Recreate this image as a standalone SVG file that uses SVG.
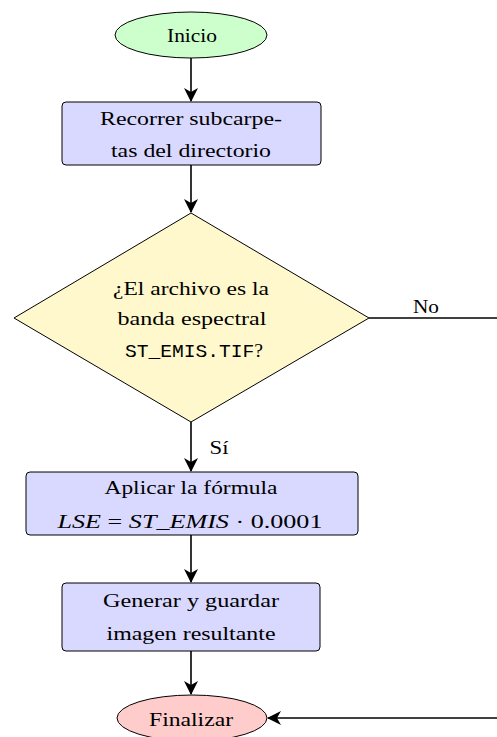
<svg xmlns="http://www.w3.org/2000/svg" width="497" height="737" viewBox="0 0 497 737">
<defs>
<marker id="ah" viewBox="0 0 14 14" refX="13" refY="7" markerWidth="14" markerHeight="14" markerUnits="userSpaceOnUse" orient="auto">
<path d="M0,0 L14,7 L0,14 L4,7 Z" fill="#000"/>
</marker>
<style>
.t{font-family:"Liberation Serif","DejaVu Serif",serif;font-size:19px;fill:#000;text-anchor:middle}
.m{font-family:"Liberation Mono","DejaVu Sans Mono",monospace}
.i{font-style:italic}
.s{stroke:#000;stroke-width:1}
.c{stroke:#000;stroke-width:1.6;fill:none}
</style>
</defs>
<rect width="497" height="737" fill="#fff"/>
<g id="inicio">
<ellipse cx="191" cy="35" rx="76" ry="23" fill="#ccffcc" class="s"/>
<text class="t" x="192" y="42" textLength="50" lengthAdjust="spacingAndGlyphs">Inicio</text>
</g>
<g id="recorrer">
<rect x="62" y="102" width="259" height="63" rx="4" fill="#d9d9ff" class="s"/>
<text class="t" x="191" y="125" textLength="182" lengthAdjust="spacingAndGlyphs">Recorrer subcarpe-</text>
<text class="t" x="191" y="157" textLength="160" lengthAdjust="spacingAndGlyphs">tas del directorio</text>
</g>
<g id="decision">
<polygon points="191,213 369,318 191,422 14,318" fill="#fff8cc" class="s"/>
<text class="t" x="191" y="295" textLength="156" lengthAdjust="spacingAndGlyphs">¿El archivo es la</text>
<text class="t" x="192" y="325" textLength="149" lengthAdjust="spacingAndGlyphs">banda espectral</text>
<text class="t" x="194" y="357" textLength="138" lengthAdjust="spacingAndGlyphs"><tspan class="m">ST_EMIS.TIF</tspan>?</text>
</g>
<g id="aplicar">
<rect x="26" y="472" width="332" height="63" rx="4" fill="#d9d9ff" class="s"/>
<text class="t" x="191" y="494" textLength="173" lengthAdjust="spacingAndGlyphs">Aplicar la fórmula</text>
<text class="t" x="190" y="528" textLength="265" lengthAdjust="spacingAndGlyphs"><tspan class="i">LSE</tspan> = <tspan class="i">ST_EMIS</tspan> · 0.0001</text>
</g>
<g id="generar">
<rect x="62" y="583" width="258" height="68" rx="4" fill="#d9d9ff" class="s"/>
<text class="t" x="191" y="607" textLength="176" lengthAdjust="spacingAndGlyphs">Generar y guardar</text>
<text class="t" x="191" y="640" textLength="169" lengthAdjust="spacingAndGlyphs">imagen resultante</text>
</g>
<g id="finalizar">
<ellipse cx="192" cy="718" rx="75" ry="23" fill="#ffcccc" class="s"/>
<text class="t" x="191" y="726" textLength="84" lengthAdjust="spacingAndGlyphs">Finalizar</text>
</g>
<g id="connectors">
<line class="c" x1="191" y1="58" x2="191" y2="101" marker-end="url(#ah)"/>
<line class="c" x1="191" y1="165" x2="191" y2="212" marker-end="url(#ah)"/>
<line class="c" x1="191" y1="422" x2="191" y2="471" marker-end="url(#ah)"/>
<line class="c" x1="191" y1="535" x2="191" y2="582" marker-end="url(#ah)"/>
<line class="c" x1="191" y1="651" x2="191" y2="694" marker-end="url(#ah)"/>
<polyline class="c" points="369,318 497,318"/>
<line class="c" x1="497" y1="718" x2="268" y2="718" marker-end="url(#ah)"/>
<text class="t" x="426" y="313" textLength="26" lengthAdjust="spacingAndGlyphs">No</text>
<text class="t" x="219" y="454" textLength="19" lengthAdjust="spacingAndGlyphs">Sí</text>
</g>
</svg>
